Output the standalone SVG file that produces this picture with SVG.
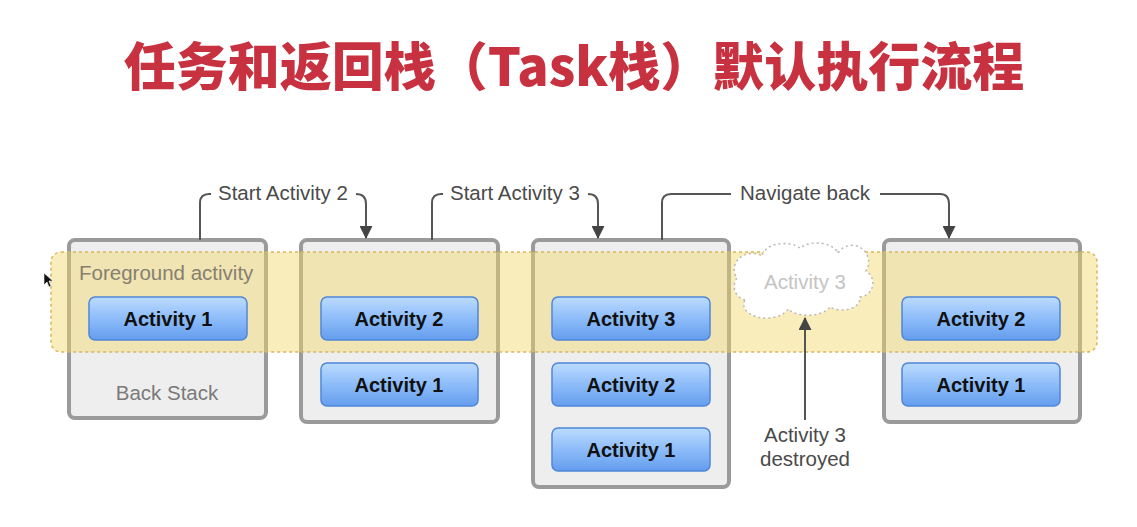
<svg xmlns="http://www.w3.org/2000/svg" width="1137" height="527" viewBox="0 0 1137 527">
<defs>
<linearGradient id="btn" x1="0" y1="0" x2="0" y2="1">
<stop offset="0" stop-color="#bcdcff"/>
<stop offset="0.5" stop-color="#8dbcf9"/>
<stop offset="1" stop-color="#649dee"/>
</linearGradient>
<marker id="ah" viewBox="0 0 12 12" refX="11" refY="6" markerWidth="13" markerHeight="13" orient="auto" markerUnits="userSpaceOnUse">
<path d="M0,0 L12,6 L0,12 Z" fill="#444"/>
</marker>
<style>
.title{font-family:"Noto Sans CJK SC","Liberation Sans",sans-serif;font-weight:900;font-size:52px;fill:#c8313f}
.stack{fill:#eeeeee;stroke:#9a9a9a;stroke-width:4}
.band{fill:#f5d66a;fill-opacity:0.45;stroke:#d6b660;stroke-width:1.5;stroke-dasharray:3 3}
.btn{fill:url(#btn);stroke:#4f86d8;stroke-width:1.5}
.bt{font-family:"Liberation Sans",Arial,sans-serif;font-weight:bold;font-size:20px;fill:#111;text-anchor:middle}
.lbl{font-family:"Liberation Sans",Arial,sans-serif;font-size:20.5px;fill:#4a4a4a}
.grey{font-family:"Liberation Sans",Arial,sans-serif;font-size:20.5px;fill:#7a7a7a}
.conn{fill:none;stroke:#555;stroke-width:2}
</style>
</defs>
<rect width="1137" height="527" fill="#ffffff"/>
<text class="title" x="574" y="86" text-anchor="middle">任务和返回栈（Task栈）默认执行流程</text>

<g id="stacks">
<rect id="stack1" class="stack" x="69" y="240" width="197" height="178" rx="6"/>
<rect id="stack2" class="stack" x="301" y="240" width="197" height="182" rx="6"/>
<rect id="stack3" class="stack" x="533" y="240" width="196" height="247" rx="6"/>
<rect id="stack4" class="stack" x="884" y="240" width="196" height="182" rx="6"/>
</g>

<g id="foreground-band">
<rect class="band" x="51" y="252" width="1046" height="100" rx="10"/>
<text class="grey" x="79" y="280" style="fill:#858070">Foreground activity</text>
</g>

<g id="back-stack-label">
<text class="grey" x="167" y="400" text-anchor="middle">Back Stack</text>
</g>

<g id="s1-a1"><rect class="btn" x="89" y="297" width="158" height="43" rx="6"/><text class="bt" x="168" y="326">Activity 1</text></g>
<g id="s2-a2"><rect class="btn" x="321" y="297" width="157" height="43" rx="6"/><text class="bt" x="399" y="326">Activity 2</text></g>
<g id="s2-a1"><rect class="btn" x="321" y="363" width="157" height="43" rx="6"/><text class="bt" x="399" y="392">Activity 1</text></g>
<g id="s3-a3"><rect class="btn" x="552" y="297" width="158" height="43" rx="6"/><text class="bt" x="631" y="326">Activity 3</text></g>
<g id="s3-a2"><rect class="btn" x="552" y="363" width="158" height="43" rx="6"/><text class="bt" x="631" y="392">Activity 2</text></g>
<g id="s3-a1"><rect class="btn" x="552" y="428" width="158" height="43" rx="6"/><text class="bt" x="631" y="457">Activity 1</text></g>
<g id="s4-a2"><rect class="btn" x="902" y="297" width="158" height="43" rx="6"/><text class="bt" x="981" y="326">Activity 2</text></g>
<g id="s4-a1"><rect class="btn" x="902" y="363" width="158" height="43" rx="6"/><text class="bt" x="981" y="392">Activity 1</text></g>

<g id="destroyed-cloud">
<path d="M745 300 a14 14 0 0 1 -8 -22 a18 16 0 0 1 25 -22 a22 14 0 0 1 38 -8 a22 14 0 0 1 38 5 a16 16 0 0 1 28 18 a14 14 0 0 1 -6 26 a18 12 0 0 1 -30 10 a24 14 0 0 1 -42 2 a20 12 0 0 1 -43 -9 Z" fill="#ffffff" stroke="#b8b8b8" stroke-width="1.5" stroke-dasharray="2 3"/>
<text class="grey" x="805" y="289" text-anchor="middle" style="fill:#c4c4c4">Activity 3</text>
</g>

<g id="destroyed-label">
<text class="lbl" x="805" y="442" text-anchor="middle">Activity 3</text>
<text class="lbl" x="805" y="466" text-anchor="middle">destroyed</text>
</g>

<g id="connectors">
<path class="conn" d="M200 240 V203 Q200 194 209 194 H211" />
<path class="conn" d="M356 194 Q366 194 366 204 V238" marker-end="url(#ah)"/>
<text class="lbl" x="218" y="200">Start Activity 2</text>
<path class="conn" d="M432 240 V203 Q432 194 441 194 H443" />
<path class="conn" d="M588 194 Q598 194 598 204 V238" marker-end="url(#ah)"/>
<text class="lbl" x="450" y="200">Start Activity 3</text>
<path class="conn" d="M662 240 V203 Q662 194 671 194 H731" />
<path class="conn" d="M880 194 H940 Q949 194 949 204 V238" marker-end="url(#ah)"/>
<text class="lbl" x="740" y="200">Navigate back</text>
<path class="conn" d="M805 420 V318" marker-end="url(#ah)"/>
</g>

<g id="cursor">
<path d="M44 273 L44 285 L47 282 L49 287 L51 286 L49 281 L53 281 Z" fill="#111" stroke="#fff" stroke-width="0.6"/>
</g>
</svg>
